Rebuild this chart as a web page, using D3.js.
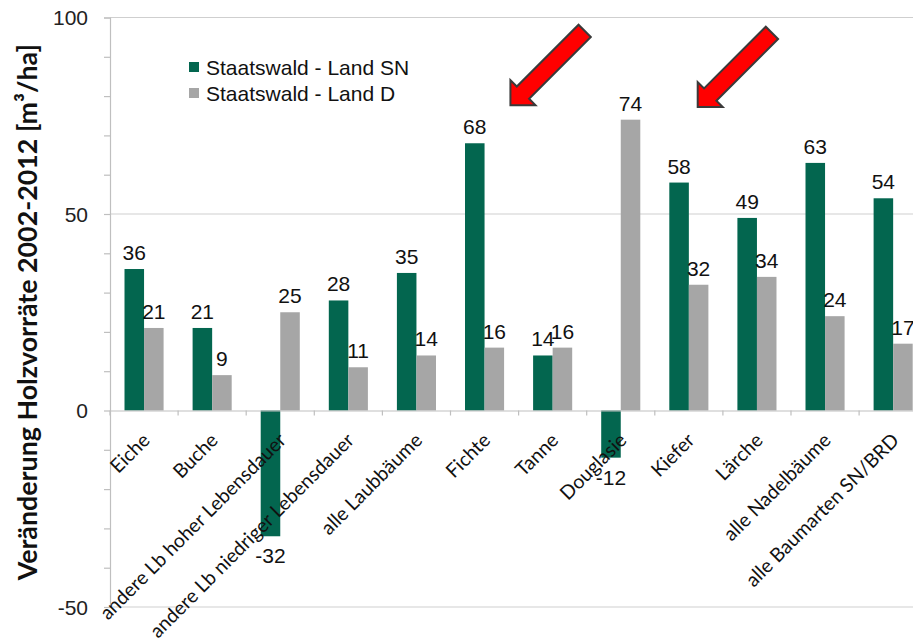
<!DOCTYPE html>
<html>
<head>
<meta charset="utf-8">
<script src="https://cdn.jsdelivr.net/npm/d3@7"></script>
<style>
  html, body { margin: 0; padding: 0; background: #fff; }
  svg { display: block; }
</style>
</head>
<body>
<svg id="chart" width="913" height="643"></svg>
<script>
// ---- data ----
const categories = ["Eiche", "Buche", "andere Lb hoher Lebensdauer", "andere Lb niedriger Lebensdauer",
  "alle Laubbäume", "Fichte", "Tanne", "Douglasie", "Kiefer", "Lärche", "alle Nadelbäume", "alle Baumarten SN/BRD"];
const seriesNames = ["Staatswald - Land SN", "Staatswald - Land D"];
const valuesSN = [36, 21, -32, 28, 35, 68, 14, -12, 58, 49, 63, 54];
const valuesD  = [21, 9, 25, 11, 14, 16, 16, 74, 32, 34, 24, 17];
const yTicks = [-50, 0, 50, 100];
const yTitle = "Veränderung Holzvorräte 2002-2012 [m³/ha]";
// annotation arrows: tip located at category + fraction of band, value on y scale
const arrows = [
  { category: "Fichte", frac: 0.88, value: 77.7 },
  { category: "Kiefer", frac: 0.63, value: 77.2 }
];

const colors = ["#03664F", "#A6A6A6"];

(function () {
const svg = d3.select("#chart");
const mLeft = 110, mRight = 110 + 12 * 68.1, mTop = 17.5, mBottom = 607;

const x = d3.scaleBand().domain(categories).range([mLeft, mRight]).padding(0);
const y = d3.scaleLinear().domain([-50, 100]).range([mBottom, mTop]);
const bw = x.bandwidth();
const barW = bw * 0.287;
const x1 = d3.scaleBand().domain(seriesNames).range([bw / 2 - barW, bw / 2 + barW]).padding(0);

// gridlines
svg.append("g").selectAll("line").data(yTicks.filter(d => d !== 0)).join("line")
  .attr("x1", mLeft).attr("x2", mRight)
  .attr("y1", d => y(d)).attr("y2", d => y(d))
  .attr("stroke", "#cfcfcf").attr("stroke-width", 1.2);

// y axis
const yAxis = d3.axisLeft(y).tickValues(d3.range(-50, 101, 10)).tickSize(6).tickFormat("");
const gy = svg.append("g").attr("transform", `translate(${mLeft},0)`).call(yAxis);
gy.select(".domain").attr("stroke", "#bfbfbf").attr("stroke-width", 1.2);
gy.selectAll(".tick line").attr("stroke", "#bfbfbf").attr("stroke-width", 1.2);

svg.append("g").selectAll("text").data(yTicks).join("text")
  .attr("x", 88).attr("y", d => y(d)).attr("dy", "0.36em")
  .attr("text-anchor", "end")
  .style("font-family", "'Liberation Sans', Arial, sans-serif").style("font-size", "21px")
  .attr("fill", "#222").text(d => d);

// bars
const data = categories.map((c, i) => ({ c, vals: [valuesSN[i], valuesD[i]] }));
const groups = svg.append("g").selectAll("g").data(data).join("g")
  .attr("transform", d => `translate(${x(d.c)},0)`);
groups.selectAll("rect").data(d => d.vals.map((v, j) => ({ v, s: seriesNames[j], j }))).join("rect")
  .attr("x", d => x1(d.s)).attr("width", x1.bandwidth())
  .attr("y", d => y(Math.max(0, d.v))).attr("height", d => Math.abs(y(d.v) - y(0)))
  .attr("fill", d => colors[d.j]);

// x axis line at zero
const xAxis = d3.axisBottom(x).tickSize(0).tickFormat("");
const gx = svg.append("g").attr("transform", `translate(0,${y(0)})`).call(xAxis);
gx.select(".domain").attr("stroke", "#bfbfbf").attr("stroke-width", 1.2);
// category boundary ticks
svg.append("g").selectAll("line").data(categories.concat(["__end"])).join("line")
  .attr("x1", (d, i) => mLeft + i * bw).attr("x2", (d, i) => mLeft + i * bw)
  .attr("y1", y(0)).attr("y2", y(0) + 5)
  .attr("stroke", "#bfbfbf").attr("stroke-width", 1.2);

// x labels (rotated)
svg.append("g").selectAll("text").data(categories).join("text")
  .attr("transform", d => `translate(${x(d) + bw / 2 + 7},${y(0) + 31}) rotate(-45)`)
  .attr("text-anchor", "end")
  .style("font-family", "Lato, 'Open Sans', sans-serif").style("font-size", "19.5px")
  .attr("fill", "#111").text(d => d);

// data labels
groups.selectAll("text.val").data(d => d.vals.map((v, j) => ({ v, s: seriesNames[j], j }))).join("text")
  .attr("class", "val")
  .attr("x", d => x1(d.s) + x1.bandwidth() / 2)
  .attr("y", d => d.v >= 0 ? y(d.v) - 9 : y(d.v) + 27)
  .attr("text-anchor", "middle")
  .style("font-family", "'Liberation Sans', Arial, sans-serif").style("font-size", "21px")
  .attr("fill", "#111").text(d => d.v);

// y title
svg.append("text")
  .attr("transform", `translate(37,${(mTop + mBottom) / 2}) rotate(-90)`)
  .attr("text-anchor", "middle")
  .style("font-family", "Lato, 'Open Sans', sans-serif").style("font-size", "26.8px").style("font-weight", "bold")
  .attr("fill", "#111").text(yTitle);

// legend
const legend = svg.append("g").attr("transform", "translate(189,62)");
seriesNames.forEach((s, i) => {
  const g = legend.append("g").attr("transform", `translate(0,${i * 26})`);
  g.append("rect").attr("width", 10).attr("height", 10).attr("fill", colors[i]);
  g.append("text").attr("x", 17).attr("y", 13)
    .style("font-family", "'Liberation Sans', Arial, sans-serif").style("font-size", "21px")
    .attr("fill", "#111").text(s);
});

// arrows (block arrows pointing down-left)
const L = 105, hw = 8.7, headLen = 17.7, headHw = 17.7;
const shape = [[0, 0], [headLen, -headHw], [headLen, -hw], [L, -hw], [L, hw], [headLen, hw], [headLen, headHw]];
svg.append("g").selectAll("path").data(arrows).join("path")
  .attr("transform", d => `translate(${x(d.category) + bw * d.frac},${y(d.value)}) rotate(-45)`)
  .attr("d", d3.line()(shape) + "Z")
  .attr("fill", "#FF0000").attr("stroke", "#3a3a3a").attr("stroke-width", 2).attr("stroke-linejoin", "miter");
})();
</script>
</body>
</html>
